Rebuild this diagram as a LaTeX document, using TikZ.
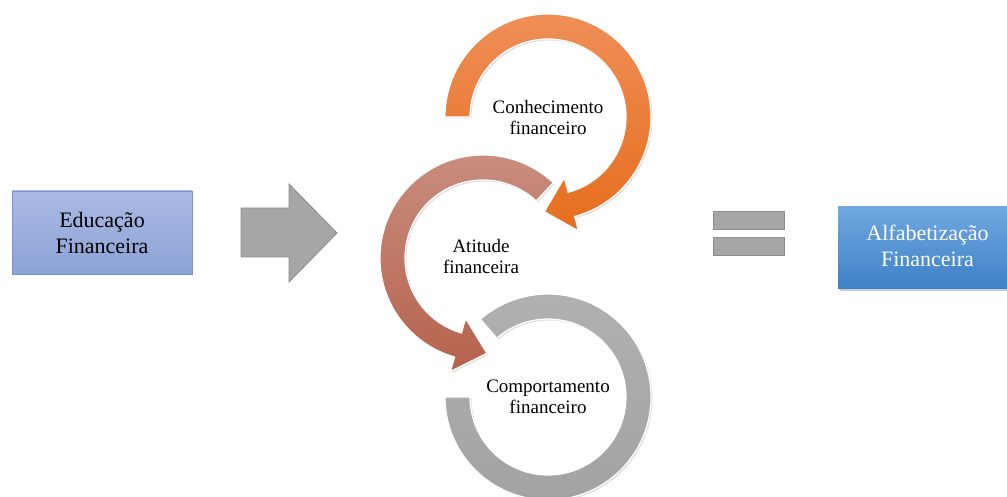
\documentclass[tikz,border=0pt]{standalone}
\usepackage{fontspec}
\setmainfont{Liberation Serif}
\usetikzlibrary{calc,shadows}
\definecolor{eduTop}{HTML}{ABBAE3}
\definecolor{eduBot}{HTML}{8CA2D7}
\definecolor{eduLine}{HTML}{7893D3}
\definecolor{alfTop}{HTML}{70A8E0}
\definecolor{alfBot}{HTML}{3E80C6}
\definecolor{grayFill}{HTML}{A6A6A6}
\definecolor{grayLine}{HTML}{8C8C8C}
\definecolor{orTop}{HTML}{EF8E57}
\definecolor{orBot}{HTML}{E56E1C}
\definecolor{brTop}{HTML}{CA8F81}
\definecolor{brBot}{HTML}{B5624C}
\definecolor{grTop}{HTML}{B0B0B0}
\definecolor{grBot}{HTML}{A3A3A3}
\tikzset{
  bigtext/.style={font=\fontsize{22}{26}\selectfont, align=center},
  ringtext/.style={font=\fontsize{19}{21}\selectfont, align=center, text=black},
  ringshape/.style={drop shadow={opacity=0.25, shadow xshift=1.5pt, shadow yshift=-1.5pt},
    draw=white, line width=1.2pt},
  graybar/.style={fill=grayFill, draw=grayLine, line width=0.8pt}
}
\begin{document}
\begin{tikzpicture}[x=1pt,y=1pt]
\useasboundingbox (0,0) rectangle (1007,496);
% left box
\node[bigtext, minimum width=180pt, minimum height=83pt, top color=eduTop, bottom color=eduBot,
  draw=eduLine, line width=0.8pt, inner sep=0pt] (edu) at (102,263.5) {Educação\\Financeira};
% big arrow
\draw[graybar] (241,239) -- (289,239) -- (289,214) -- (337,263) -- (289,312) -- (289,288) -- (241,288) -- cycle;
% equals
\draw[graybar] (713,267) rectangle (784,285);
\draw[graybar] (713,241) rectangle (784,259);
% right box
\node[minimum width=179pt, minimum height=82pt, top color=alfTop, bottom color=alfBot,
  drop shadow={opacity=0.4, shadow xshift=2pt, shadow yshift=-2.5pt}, inner sep=0pt] (alf) at (927.5,248) {};
\node[bigtext, text=white] (alft) at (927.5,250) {Alfabetização\\Financeira};
% ring centres
\coordinate (O) at (548,379);
\coordinate (B) at (483,238);
\coordinate (G) at (548,99);
% gray ring
\path[ringshape, top color=grTop, bottom color=grBot]
  ($(G)+(180:103)$) arc[start angle=180,end angle=491,radius=103]
  -- ($(G)+(491:78)$) arc[start angle=491,end angle=180,radius=78] -- cycle;
% brown ring
\path[ringshape, top color=brTop, bottom color=brBot]
  ($(B)+(47:103)$) arc[start angle=47,end angle=254,radius=103]
  -- ($(B)+(254:118)$) -- ($(B)+(254:90.5)+(344:30)$) -- ($(B)+(254:63)$) -- ($(B)+(254:78)$)
  arc[start angle=254,end angle=47,radius=78] -- cycle;
% orange ring
\path[ringshape, top color=orTop, bottom color=orBot]
  ($(O)+(180:103)$) arc[start angle=180,end angle=-75,radius=103]
  -- ($(O)+(-75:118)$) -- ($(O)+(-75:90.5)+(-165:28)$) -- ($(O)+(-75:63)$) -- ($(O)+(-75:78)$)
  arc[start angle=-75,end angle=180,radius=78] -- cycle;
% labels
\node[ringtext] (con) at (548,378) {Conhecimento\\financeiro};
\node[ringtext] (ati) at (481,239) {Atitude\\financeira};
\node[ringtext] (com) at (548,99) {Comportamento\\financeiro};
\end{tikzpicture}
\end{document}
